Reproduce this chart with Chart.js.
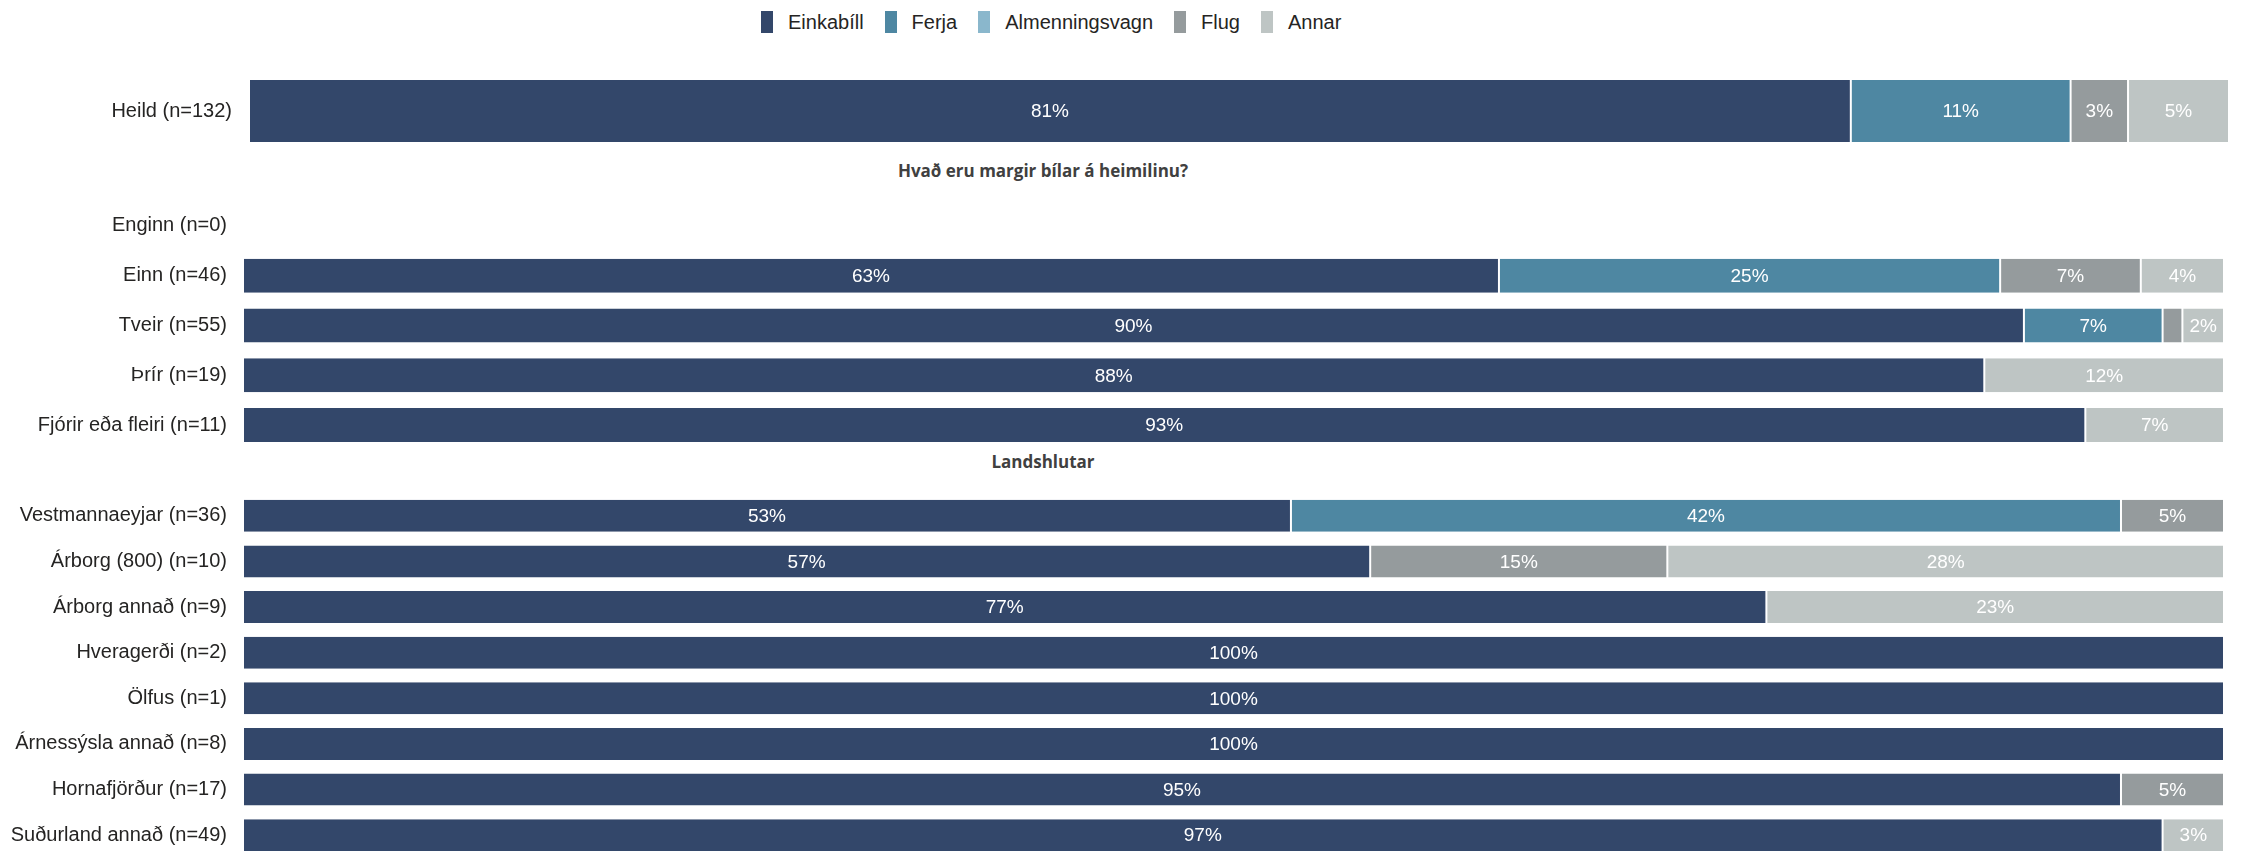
<!DOCTYPE html>
<html lang="is">
<head>
<meta charset="utf-8">
<title>Ferðamáti</title>
<script src="https://cdn.jsdelivr.net/npm/chart.js@4.4.1/dist/chart.umd.min.js"></script>
<style>
    html, body { margin: 0; padding: 0; background: #fff; overflow: hidden; }
    body { position: relative; width: 2241px; height: 851px; font-family: "Liberation Sans", Arial, sans-serif; }
    canvas { position: absolute; left: 0; }
    #legend { position: absolute; left: 761px; top: 11px; display: flex; align-items: center; font-size: 20px; line-height: 22px; color: #252423; }
    .legend-item { display: flex; align-items: center; margin-right: 21px; }
    .legend-box { width: 12px; height: 22px; margin-right: 15px; }
    .section-title { position: absolute; left: 0; width: 2086px; text-align: center; font-family: "Open Sans", sans-serif; font-weight: 700; font-size: 17px; line-height: 24px; color: #404040; }
</style>
</head>
<body>
<div id="legend"></div>
<canvas id="totalChart" width="2241" height="80" style="top:71px"></canvas>
<div class="section-title" style="top:159px">Hvað eru margir bílar á heimilinu?</div>
<canvas id="carsChart" width="2241" height="249" style="top:201px"></canvas>
<div class="section-title" style="top:450px">Landshlutar</div>
<canvas id="regionChart" width="2241" height="365" style="top:493px"></canvas>

<script>
const series = ['Einkabíll', 'Ferja', 'Almenningsvagn', 'Flug', 'Annar'];
const colors = ['#33476a', '#4e87a2', '#8ab7cc', '#959b9d', '#bec5c4'];

// Heild
const totalCats = ['Heild (n=132)'];
const totalEinkabill = [80.9];
const totalFerja = [11.1];
const totalAlmenningsvagn = [0];
const totalFlug = [2.9];
const totalAnnar = [5.1];

// Hvað eru margir bílar á heimilinu?
const carCats = ['Enginn (n=0)', 'Einn (n=46)', 'Tveir (n=55)', 'Þrír (n=19)', 'Fjórir eða fleiri (n=11)'];
const carEinkabill = [0, 63.4, 89.9, 87.9, 93.0];
const carFerja = [0, 25.3, 7.0, 0, 0];
const carAlmenningsvagn = [0, 0, 0, 0, 0];
const carFlug = [0, 7.1, 1.0, 0, 0];
const carAnnar = [0, 4.2, 2.1, 12.1, 7.0];

// Landshlutar
const regionCats = ['Vestmannaeyjar (n=36)', 'Árborg (800) (n=10)', 'Árborg annað (n=9)', 'Hveragerði (n=2)',
    'Ölfus (n=1)', 'Árnessýsla annað (n=8)', 'Hornafjörður (n=17)', 'Suðurland annað (n=49)'];
const regionEinkabill = [52.9, 56.9, 76.9, 100, 100, 100, 94.8, 96.9];
const regionFerja = [41.9, 0, 0, 0, 0, 0, 0, 0];
const regionAlmenningsvagn = [0, 0, 0, 0, 0, 0, 0, 0];
const regionFlug = [5.2, 15.0, 0, 0, 0, 0, 5.2, 0];
const regionAnnar = [0, 28.1, 23.1, 0, 0, 0, 0, 3.1];

// white percentage text in the middle of each segment, skipped when it doesn't fit
const segmentLabels = {
    id: 'segmentLabels',
    afterDatasetsDraw(chart) {
        const ctx = chart.ctx;
        ctx.save();
        ctx.font = '19px "Liberation Sans", Arial, sans-serif';
        ctx.fillStyle = '#ffffff';
        ctx.textAlign = 'center';
        ctx.textBaseline = 'middle';
        chart.data.datasets.forEach((ds, i) => {
            chart.getDatasetMeta(i).data.forEach((bar, j) => {
                const v = ds.data[j];
                if (!v) return;
                const text = Math.round(v) + '%';
                const { x, y, base } = bar.getProps(['x', 'y', 'base'], true);
                const w = Math.abs(x - base);
                if (ctx.measureText(text).width + 8 > w) return;
                ctx.fillText(text, (x + base) / 2, y + 1);
            });
        });
        ctx.restore();
    }
};

function makeChart(id, cats, values, axisWidth, right, barPct, tickPad) {
    const ctx = document.getElementById(id).getContext('2d');
    return new Chart(ctx, {
        type: 'bar',
        data: {
            labels: cats,
            datasets: series.map((name, i) => ({
                label: name,
                data: values[i],
                backgroundColor: colors[i],
                borderColor: '#ffffff',
                borderWidth: { left: 1, right: 1, top: 0, bottom: 0 },
                borderSkipped: false,
                barPercentage: barPct,
                categoryPercentage: 1
            }))
        },
        options: {
            indexAxis: 'y',
            responsive: false,
            animation: false,
            layout: { padding: { left: 0, right: 2241 - right, top: 0, bottom: 0 } },
            plugins: {
                legend: { display: false },
                tooltip: { enabled: false }
            },
            scales: {
                x: { stacked: true, display: false, min: 0, max: 100 },
                y: {
                    stacked: true,
                    grid: { display: false, drawTicks: false },
                    border: { display: false },
                    ticks: {
                        padding: tickPad,
                        color: '#252423',
                        font: { family: '"Liberation Sans", Arial, sans-serif', size: 20 }
                    },
                    // fixed label column, and no extra room above/below the rows
                    afterFit: scale => {
                        scale.width = axisWidth;
                        scale.paddingTop = 0;
                        scale.paddingBottom = 0;
                    }
                }
            }
        },
        plugins: [segmentLabels]
    });
}

function buildLegend() {
    const legend = document.getElementById('legend');
    series.forEach((name, i) => {
        const item = document.createElement('div');
        item.className = 'legend-item';
        item.innerHTML = `<span class="legend-box" style="background:${colors[i]}"></span><span>${name}</span>`;
        legend.appendChild(item);
    });
}

document.addEventListener('DOMContentLoaded', () => {
    buildLegend();
    makeChart('totalChart', totalCats,
        [totalEinkabill, totalFerja, totalAlmenningsvagn, totalFlug, totalAnnar], 249, 2229, 0.775, 17);
    makeChart('carsChart', carCats,
        [carEinkabill, carFerja, carAlmenningsvagn, carFlug, carAnnar], 243, 2224, 0.683, 16);
    makeChart('regionChart', regionCats,
        [regionEinkabill, regionFerja, regionAlmenningsvagn, regionFlug, regionAnnar], 243, 2224, 0.70, 16);
});
</script>
</body>
</html>
